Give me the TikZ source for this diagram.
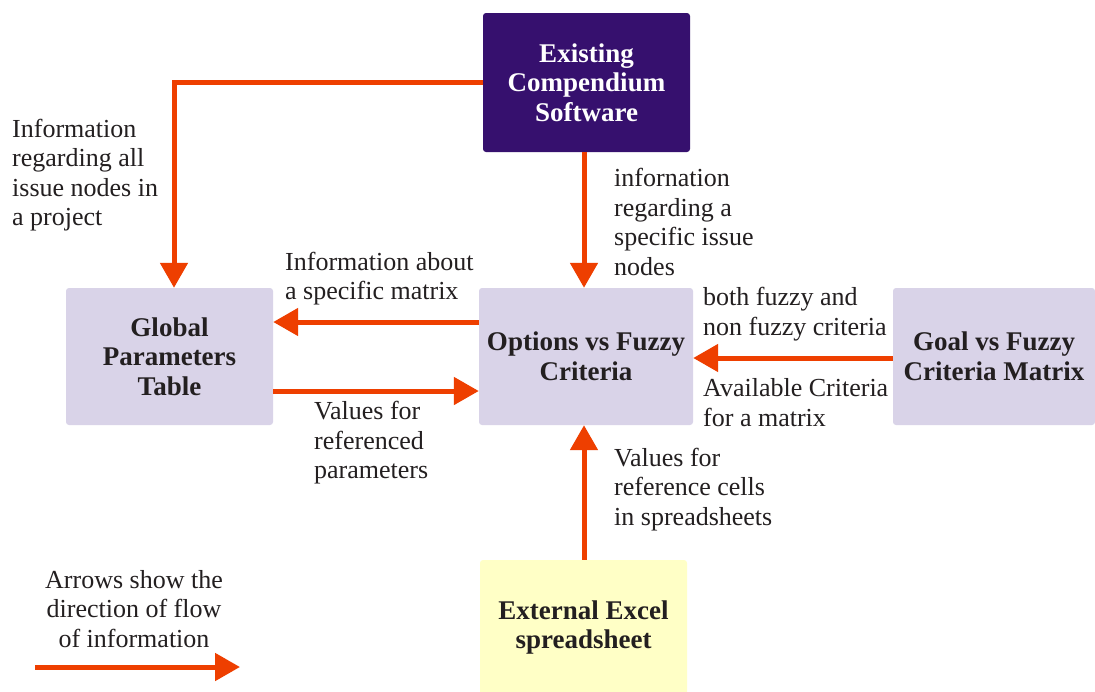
\documentclass[tikz,border=0pt]{standalone}
\usepackage{fontspec}
\setmainfont{Liberation Serif}
\usetikzlibrary{arrows.meta}
\definecolor{darkpurple}{HTML}{36106E}
\definecolor{lavender}{HTML}{D9D3E8}
\definecolor{paleyellow}{HTML}{FFFFC6}
\definecolor{flow}{HTML}{EE3F00}
\definecolor{ink}{HTML}{231F20}
\begin{document}
\begin{tikzpicture}[x=1pt,y=-1pt,
  every node/.style={font=\fontsize{26}{29.5}\selectfont, text=ink},
  box/.style={rounded corners=3pt, inner sep=0pt, align=center, font=\fontsize{27}{29.5}\selectfont\bfseries},
  lightbox/.style={box, fill=lavender},
  lbl/.style={anchor=west, inner sep=0pt, align=left},
  arr/.style={draw=flow, line width=5pt, -{Triangle[length=25pt,width=27pt]}}
]
\clip (0,0) rectangle (1095,691);
\fill[white] (0,0) rectangle (1095,691);

\node[box, fill=darkpurple, text=white, minimum width=207pt, minimum height=139pt] (exist) at (586.5,82.5) {Existing\\Compendium\\Software};
\node[lightbox, minimum width=207pt, minimum height=137pt] (global) at (169.5,356.5) {Global\\Parameters\\Table};
\node[lightbox, minimum width=214pt, minimum height=137pt] (options) at (586,356.5) {Options vs Fuzzy\\Criteria};
\node[lightbox, minimum width=202pt, minimum height=137pt] (goal) at (994,356.5) {Goal vs Fuzzy\\Criteria Matrix};
\node[box, fill=paleyellow, minimum width=207pt, minimum height=135pt] (excel) at (583.5,627.5) {External Excel\\spreadsheet};

\draw[arr] (exist.west) -| ([xshift=4.5pt]global.north);
\draw[arr] ([xshift=-2.5pt]exist.south) -- ([xshift=-2pt]options.north);
\draw[arr] ([yshift=34.5pt]options.west) -- ([yshift=34.5pt]global.east);
\draw[arr] ([yshift=-34.5pt]global.east) -- ([yshift=-34.5pt]options.west);
\draw[arr] ([yshift=-1.5pt]goal.west) -- ([yshift=-1.5pt]options.east);
\draw[arr] ([xshift=0.5pt]excel.north) -- ([xshift=-2pt]options.south);

\coordinate (legA) at (35,667);
\coordinate (legB) at (240,667);
\draw[arr] (legA) -- (legB);

\node[lbl] (t1) at (12,175) {Information\\regarding all\\issue nodes in\\a project};
\node[lbl] (t2) at (614,222) {infornation\\regarding a\\specific issue\\nodes};
\node[lbl] (t3) at (285,278.5) {Information about\\a specific matrix};
\node[lbl] (t4) at (314,443) {Values for\\referenced\\parameters};
\node[lbl] (t5) at (703,314) {both fuzzy and\\non fuzzy criteria};
\node[lbl] (t6) at (703,402.5) {Available Criteria\\for a matrix};
\node[lbl] (t7) at (614,489.5) {Values for\\reference cells\\in spreadsheets};
\node[inner sep=0pt, align=center] (legend) at (134,609) {Arrows show the\\direction of flow\\of information};
\end{tikzpicture}
\end{document}
